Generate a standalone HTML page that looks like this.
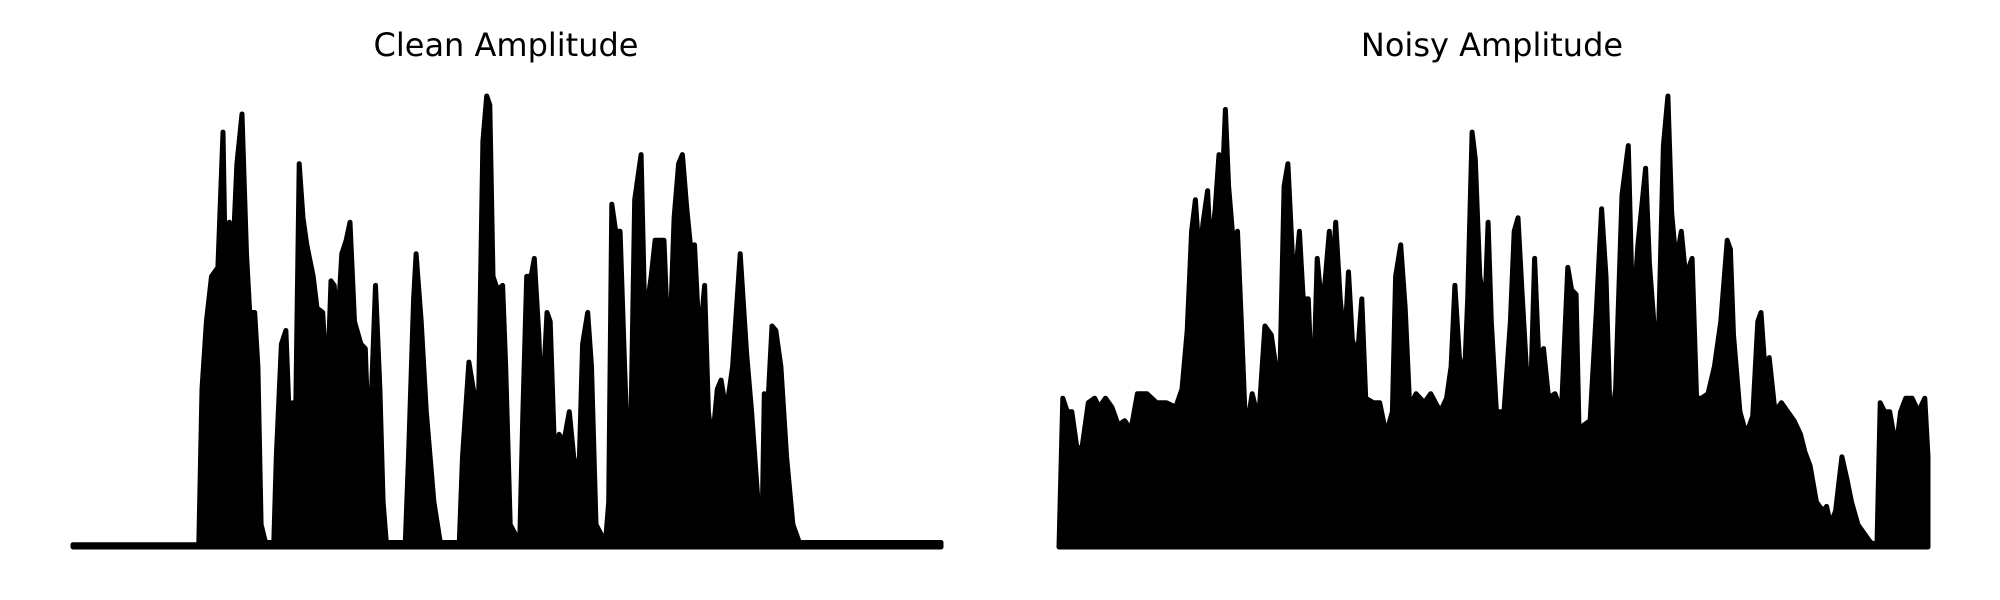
<!DOCTYPE html>
<html><head><meta charset="utf-8"><style>
html,body{margin:0;padding:0;background:#fff;}
svg{display:block;}
text{font-family:"DejaVu Sans","Liberation Sans",sans-serif;}
</style></head><body>
<svg id="chart" width="2000" height="600" viewBox="0 0 2000 600">
<text x="506" y="56" font-size="32" text-anchor="middle">Clean Amplitude</text>
<text x="1492" y="56" font-size="32" text-anchor="middle">Noisy Amplitude</text>
<g id="clean"></g>
<g id="noisy"></g>
</svg>
<script>
const cleanFrames=[
0,198,203,210,218,228,236,240,246,250,
258,266,273,278,286,291,296,303,316,320,
328,335,340,346,350,356,362,368,378,384,
393,400,406,411,416,423,430,436,443,453,
460,466,476,483,488,493,523,528,536,540,
548,556,568,578,608,613,623,630,638,645,
651,656,661,668,676,681,688,703,708,714,
721,726,733,738,746,751,758,765,772,781,
788,796,802,810,816,823,838,843,848,854,
861,868,876,884,894,900,910,916,923,930,
938,946,953,959,966,973,978,986,994,1000,
1006,1014,1020,1028,1038,1050,1060,1068,1078,1084,
1088,1093,1100,1106,1114,1123,1133,1143,1366];
const cleanValues=[
0.005,0.005,0.35,0.5,0.6,0.62,0.92,0.6,0.72,0.6,
0.85,0.96,0.65,0.52,0.52,0.4,0.05,0.01,0.01,0.2,
0.45,0.48,0.3,0.32,0.25,0.85,0.73,0.67,0.6,0.53,
0.52,0.35,0.59,0.58,0.48,0.65,0.68,0.72,0.5,0.45,
0.44,0.2,0.58,0.35,0.1,0.01,0.01,0.2,0.55,0.65,
0.5,0.3,0.1,0.01,0.01,0.2,0.41,0.35,0.3,0.9,
1.0,0.98,0.6,0.57,0.58,0.4,0.05,0.01,0.3,0.6,
0.6,0.64,0.47,0.3,0.52,0.5,0.2,0.25,0.23,0.3,
0.2,0.15,0.45,0.52,0.4,0.05,0.01,0.1,0.76,0.7,
0.7,0.4,0.1,0.77,0.87,0.5,0.6,0.68,0.68,0.68,
0.4,0.73,0.85,0.87,0.75,0.65,0.67,0.45,0.58,0.3,
0.23,0.35,0.37,0.3,0.4,0.65,0.43,0.3,0.1,0.01,
0.34,0.3,0.49,0.48,0.4,0.2,0.05,0.01,0.01];
const noisyFrames=[
0,6,13,20,28,36,46,56,63,73,
83,93,103,113,123,138,153,168,183,193,
201,208,214,220,226,233,238,245,251,256,
261,266,273,280,286,293,303,313,323,333,
340,346,353,359,366,371,377,383,391,398,
405,413,418,424,429,434,441,448,454,460,
468,475,481,493,503,513,523,528,536,543,
550,560,573,583,598,608,615,621,628,636,
641,648,653,660,668,673,678,686,698,708,
714,720,726,733,740,746,753,760,768,778,
788,798,804,811,816,823,833,843,851,858,
865,873,883,893,900,908,920,926,933,940,
948,955,961,968,976,983,993,1000,1008,1018,
1028,1038,1048,1053,1058,1068,1078,1088,1096,1101,
1108,1114,1123,1133,1143,1153,1163,1170,1178,1188,
1198,1204,1210,1218,1228,1236,1243,1253,1263,1273,
1283,1288,1295,1303,1313,1320,1328,1338,1348,1358,
1363];
const noisyValues=[
0,0.33,0.3,0.3,0.22,0.22,0.32,0.33,0.31,0.33,
0.31,0.27,0.28,0.26,0.34,0.34,0.32,0.32,0.31,0.35,
0.48,0.7,0.77,0.64,0.72,0.79,0.65,0.75,0.87,0.8,
0.97,0.8,0.68,0.7,0.5,0.25,0.34,0.28,0.49,0.47,
0.4,0.35,0.8,0.85,0.65,0.6,0.7,0.55,0.55,0.3,
0.64,0.52,0.6,0.7,0.6,0.72,0.55,0.45,0.61,0.46,
0.42,0.55,0.33,0.32,0.32,0.25,0.3,0.6,0.67,0.53,
0.31,0.34,0.32,0.34,0.3,0.33,0.4,0.58,0.42,0.38,
0.55,0.92,0.86,0.6,0.53,0.72,0.5,0.3,0.3,0.5,
0.7,0.73,0.57,0.4,0.35,0.64,0.4,0.44,0.33,0.34,
0.3,0.62,0.57,0.56,0.23,0.27,0.28,0.53,0.75,0.6,
0.26,0.35,0.78,0.89,0.5,0.67,0.84,0.63,0.5,0.45,
0.89,1.0,0.74,0.63,0.7,0.6,0.64,0.33,0.33,0.34,
0.4,0.5,0.68,0.66,0.47,0.3,0.25,0.29,0.5,0.52,
0.38,0.42,0.3,0.32,0.3,0.28,0.25,0.21,0.18,0.1,
0.08,0.09,0.05,0.08,0.2,0.15,0.1,0.05,0.03,0.01,
0.005,0.32,0.3,0.3,0.22,0.3,0.33,0.33,0.3,0.33,
0.2];

const NS='http://www.w3.org/2000/svg';
const Y0=547,Y1=96;
function yScale(v){return Y0-v*(Y0-Y1);}
function draw(gid,frames,values,x0,x1,name){
  const maxF=frames[frames.length-1];
  const xs=f=>x0+f/maxF*(x1-x0);
  let d='M'+xs(frames[0])+','+Y0;
  for(let i=0;i<frames.length;i++)d+=' L'+xs(frames[i]).toFixed(1)+','+yScale(values[i]).toFixed(1);
  d+=' L'+xs(maxF)+','+Y0+' Z';
  const p=document.createElementNS(NS,'path');
  p.setAttribute('d',d);
  p.setAttribute('fill','#000');
  p.setAttribute('stroke','#000');
  p.setAttribute('stroke-width','5');
  p.setAttribute('stroke-linejoin','round');
  
  
  document.getElementById(gid).appendChild(p);
}
draw('clean',cleanFrames,cleanValues,73,941,'clean-amplitude-series');
draw('noisy',noisyFrames,noisyValues,1059,1928,'noisy-amplitude-series');
</script>
</body></html>
